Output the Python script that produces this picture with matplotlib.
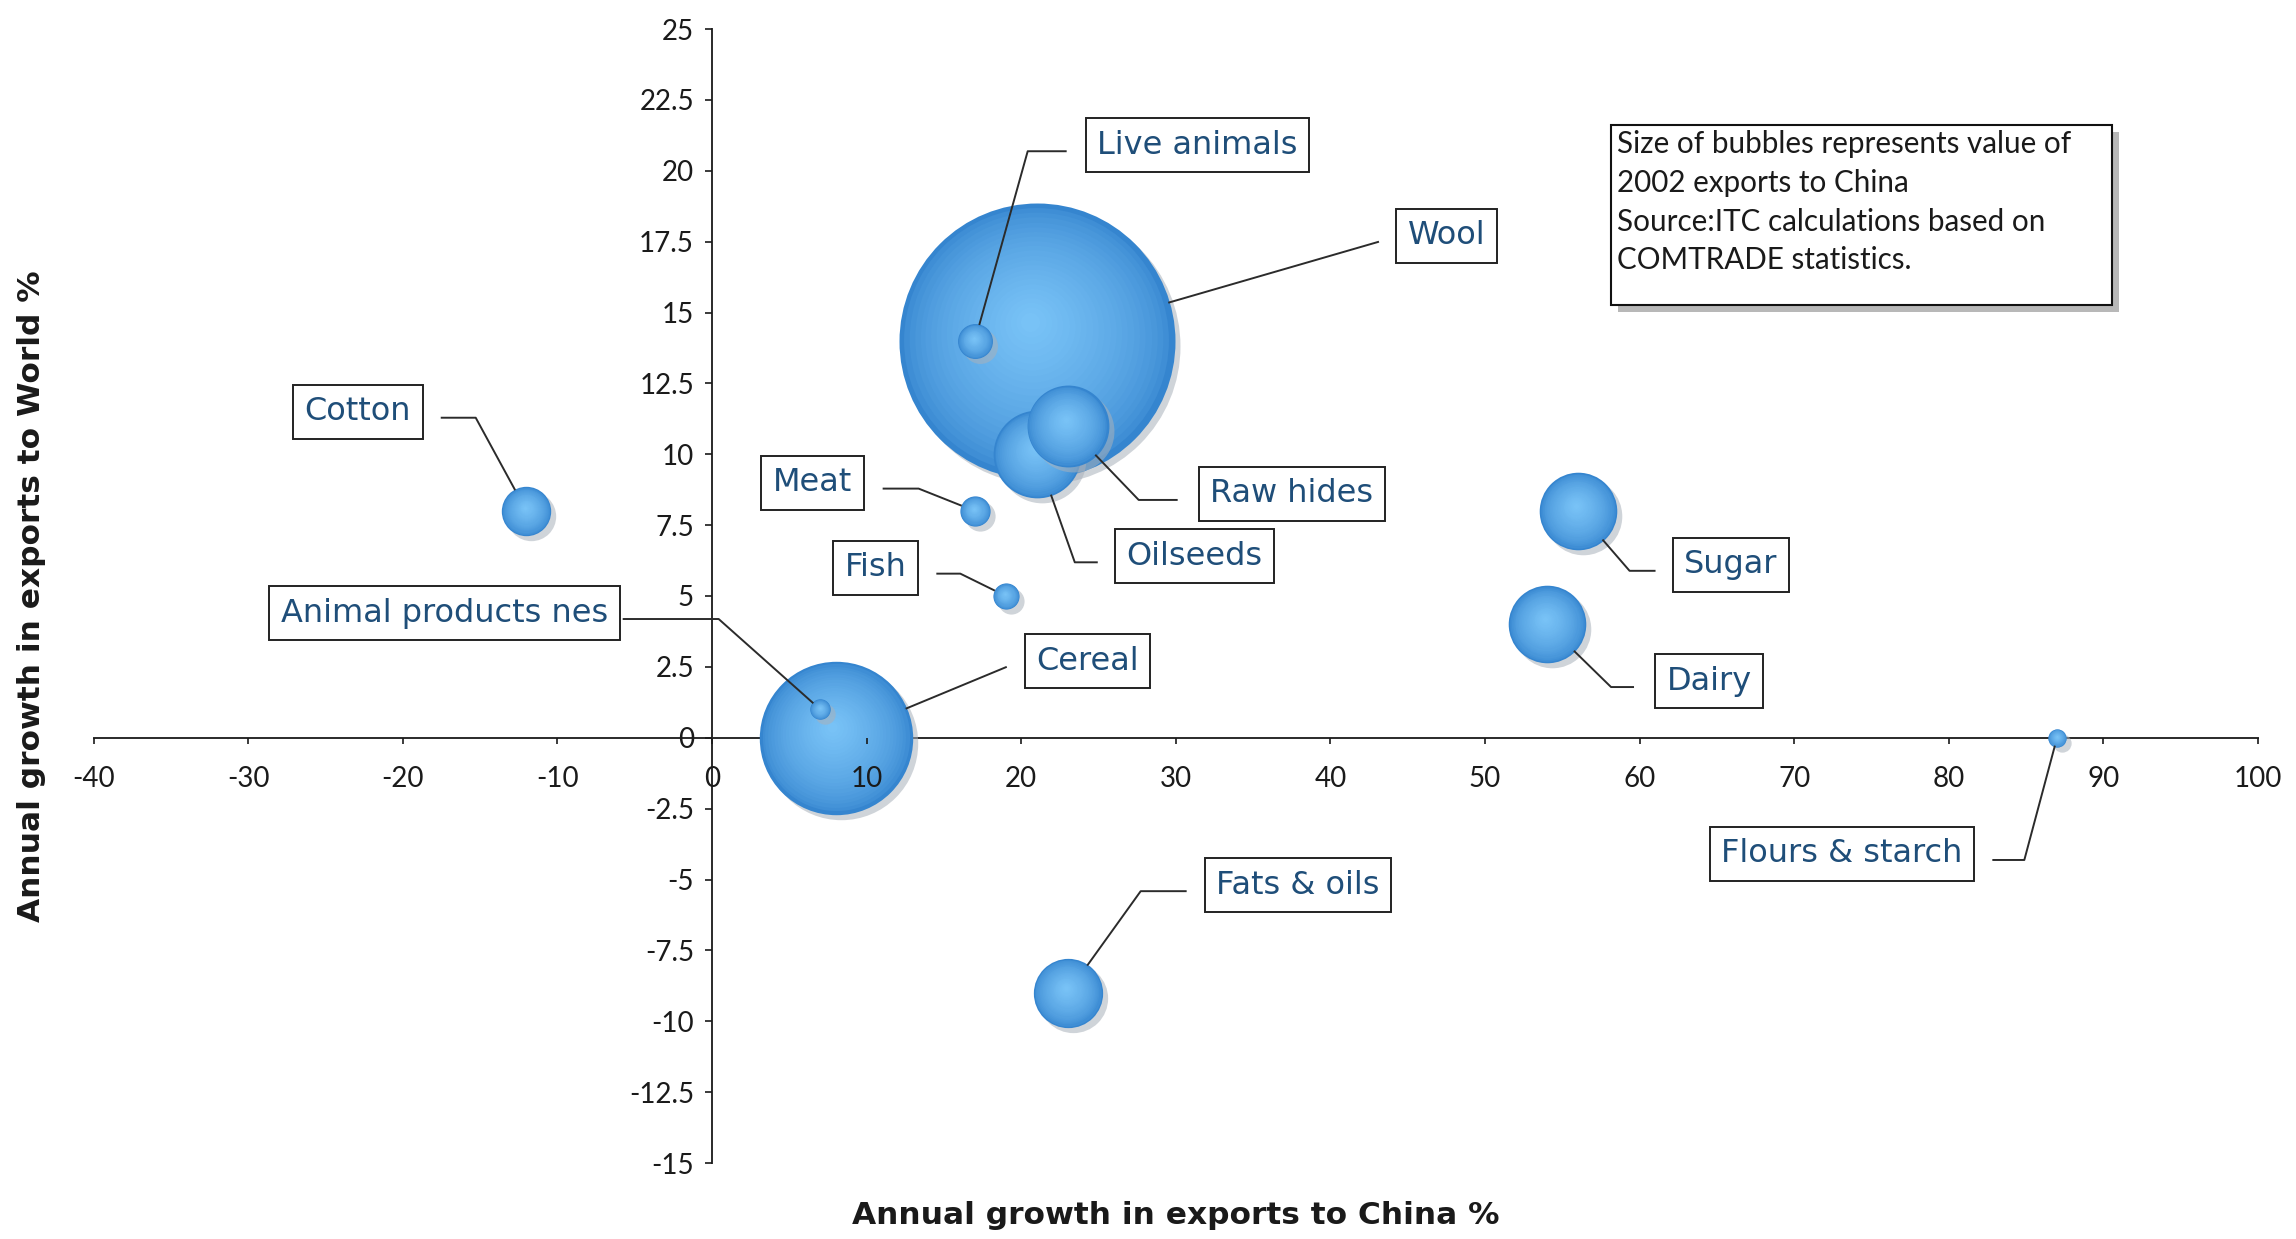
import matplotlib.pyplot as plt
import numpy as np
from matplotlib import transforms
from matplotlib.colors import to_rgb
from matplotlib.patches import Rectangle
from matplotlib.ticker import FormatStrFormatter

# data
products = ['Wool', 'Cereal', 'Oilseeds', 'Raw hides', 'Sugar', 'Dairy', 'Fats & oils',
            'Cotton', 'Live animals', 'Meat', 'Fish', 'Animal products nes', 'Flours & starch']
growth_china = [21, 8, 21, 23, 56, 54, 23, -12, 17, 17, 19, 7, 87]
growth_world = [14, 0, 10, 11, 8, 4, -9, 8, 14, 8, 5, 1, 0]
# 2002 exports to China (relative)
export_value = [1000, 309, 101, 88, 79, 79, 63, 32, 16, 12, 9, 5.5, 4.4]

# label layout: box centre (data units), side the leader leaves from, gap and arm in pixels
label_x = [47.5, 24.3, 31.2, 37.5, 65.9, 64.5, 37.9, -22.9, 31.4, 6.5, 10.6, -17.3, 73.1]
label_y = [17.7, 2.7, 6.4, 8.6, 6.1, 2.0, -5.2, 11.5, 20.9, 9.0, 6.0, 4.4, -4.1]
label_side = ['left', 'left', 'left', 'left', 'left', 'left', 'left',
              'right', 'left', 'right', 'right', 'right', 'right']
label_gap = [18, 19, 18, 22, 18, 22, 19, 19, 20, 20, 19, 4, 19]
label_arm = [0, 0, 22, 38, 25, 22, 45, 34, 38, 35, 23, 95, 31]

W, H, DPI = 2296, 1239, 100
MAX_R = 138  # radius of the biggest bubble, pixels
EDGE = np.array(to_rgb('#3585cf'))
CENTRE = np.array(to_rgb('#78c2f6'))
TEXT_BLUE = '#1f4e79'

plt.rcParams['font.family'] = ['Lato', 'DejaVu Sans']

fig = plt.figure(figsize=(W / DPI, H / DPI), dpi=DPI)
ax = fig.add_axes([93.6 / W, 1 - 1163 / H, (2258 - 93.6) / W, (1163 - 29) / H])
ax.set_xlim(-40, 100)
ax.set_ylim(-15, 25)


def px2pt(p):
    return p * 72 / DPI


vals = np.array(export_value, dtype=float)
radius = MAX_R * np.sqrt(vals / vals.max())
order = np.argsort(-vals, kind='stable')

n_layers = 24
for i in order:
    x, y, r = growth_china[i], growth_world[i], radius[i]
    shadow = transforms.offset_copy(ax.transData, fig=fig, x=5, y=-5, units='dots')
    ax.scatter([x], [y], s=(2 * px2pt(r)) ** 2, color='#a9b1ba', alpha=0.55, lw=0,
               transform=shadow, zorder=3)
    for k in range(n_layers):
        t = k / (n_layers - 1)
        f = 1 - 0.93 * t
        col = EDGE * (1 - t ** 0.6) + CENTRE * t ** 0.6
        tr = transforms.offset_copy(ax.transData, fig=fig, x=-(1 - f) * r * 0.05,
                                    y=(1 - f) * r * 0.15, units='dots')
        ax.scatter([x], [y], s=(2 * px2pt(r * f)) ** 2, color=col, lw=0,
                   transform=tr, zorder=3)

# axes through the origin
for side in ['top', 'right']:
    ax.spines[side].set_visible(False)
ax.spines['left'].set_position(('data', 0))
ax.spines['bottom'].set_position(('data', 0))
for side in ['left', 'bottom']:
    ax.spines[side].set_linewidth(1.4)
    ax.spines[side].set_color('#2a2a2a')
    ax.spines[side].set_zorder(1)
ax.xaxis.set_zorder(5)
ax.yaxis.set_zorder(5)

ax.set_xticks(np.arange(-40, 101, 10))
ax.set_yticks(np.arange(-15, 25.1, 2.5))
ax.xaxis.set_major_formatter(FormatStrFormatter('%g'))
ax.yaxis.set_major_formatter(FormatStrFormatter('%g'))
ax.tick_params(axis='x', direction='out', length=4.5, width=1.2, labelsize=20, pad=16,
               colors='#1a1a1a')
ax.tick_params(axis='y', direction='out', length=5, width=1.2, labelsize=20, pad=8,
               colors='#1a1a1a')

labels = []
for i, name in enumerate(products):
    t = ax.text(label_x[i], label_y[i], name, ha='center', va='center', fontsize=23,
                color=TEXT_BLUE, family='DejaVu Sans', zorder=10,
                bbox=dict(boxstyle='square,pad=0.36', fc='white', ec='#222222', lw=1.4))
    labels.append(t)

fig.canvas.draw()
renderer = fig.canvas.get_renderer()
inv = ax.transData.inverted()
for i, t in enumerate(labels):
    bb = t.get_bbox_patch().get_window_extent(renderer)
    yl = (bb.y0 + bb.y1) / 2 - 6
    if label_side[i] == 'left':
        x0 = bb.x0 - label_gap[i]
        x1 = x0 - label_arm[i]
    else:
        x0 = bb.x1 + label_gap[i]
        x1 = x0 + label_arm[i]
    c = ax.transData.transform((growth_china[i], growth_world[i]))
    d = np.array([x1, yl]) - c
    end = c + radius[i] * d / np.hypot(*d)
    pts = inv.transform(np.array([[x0, yl], [x1, yl], end]))
    ax.plot(pts[:, 0], pts[:, 1], color='#2b2b2b', lw=1.4, zorder=8)

# note box with shadow
fig.add_artist(Rectangle((1618 / W, 1 - 312 / H), 501 / W, 180 / H, transform=fig.transFigure,
                         fc='#8a8a8a', ec='none', alpha=0.6, zorder=20))
fig.add_artist(Rectangle((1611 / W, 1 - 305 / H), 501 / W, 180 / H, transform=fig.transFigure,
                         fc='white', ec='#111111', lw=1.5, zorder=21))
fig.text(1617 / W, 1 - 130 / H,
         'Size of bubbles represents value of\n2002 exports to China\n'
         'Source:ITC calculations based on\nCOMTRADE statistics.',
         ha='left', va='top', fontsize=21.3, linespacing=1.47, color='#1a1a1a', zorder=22)

fig.text(1176 / W, 1 - 1215 / H, 'Annual growth in exports to China %', ha='center',
         va='center', fontsize=22.5, fontweight='bold', family='DejaVu Sans', color='#1a1a1a')
fig.text(32 / W, 1 - 596 / H, 'Annual growth in exports to World %', ha='center',
         va='center', rotation=90, fontsize=22.5, fontweight='bold', family='DejaVu Sans',
         color='#1a1a1a')

fig.savefig('out.png', dpi=DPI)
